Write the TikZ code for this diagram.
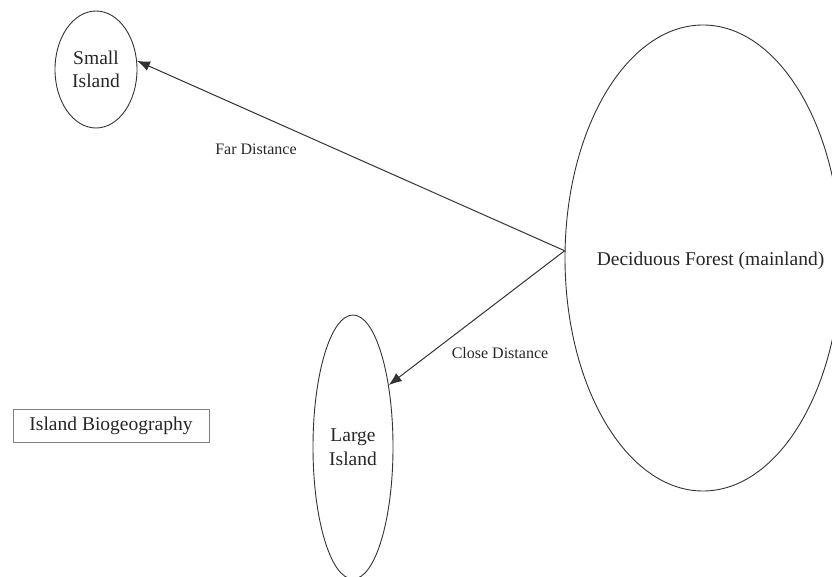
\documentclass[tikz,border=0pt]{standalone}
\usepackage{fontspec}
\setmainfont{Liberation Serif}
\usetikzlibrary{shapes.geometric,arrows.meta}
\definecolor{inkgray}{HTML}{333333}
\definecolor{boxgray}{HTML}{808080}
\begin{document}
\begin{tikzpicture}[x=1pt,y=-1pt,
  land/.style={draw=inkgray,line width=0.9pt,ellipse,inner sep=0pt,
    font=\fontsize{19.5}{23.5}\selectfont,align=center,text=black!85},
  lbl/.style={font=\fontsize{16}{19}\selectfont,text=black!85},
  conn/.style={draw=inkgray,line width=1pt,-{Latex[length=13pt,width=10pt]}}]
\useasboundingbox (0,0) rectangle (832,577);
\node[land,minimum width=82pt,minimum height=117pt] (si) at (96,69.5) {Small\\Island};
\node[land,minimum width=80pt,minimum height=264pt] (li) at (353,447) {Large\\Island};
\node[land,minimum width=276pt,minimum height=466pt] (df) at (703,258) {};
\node[font=\fontsize{19.5}{23.5}\selectfont,text=black!85] (dft) at (710.5,261) {Deciduous Forest (mainland)};
\node[draw=boxgray,line width=0.9pt,minimum width=196pt,minimum height=33pt,inner sep=0pt,
  font=\fontsize{19.5}{23.5}\selectfont,text=black!85] (ib) at (111,425.5) {Island Biogeography};
\coordinate (src) at (df.177);
\draw[conn] (src) -- (si.12);
\draw[conn] (src) -- (li.60);
\node[lbl] (far) at (256,149) {Far Distance};
\node[lbl] (close) at (500,353) {Close Distance};
\end{tikzpicture}
\end{document}
